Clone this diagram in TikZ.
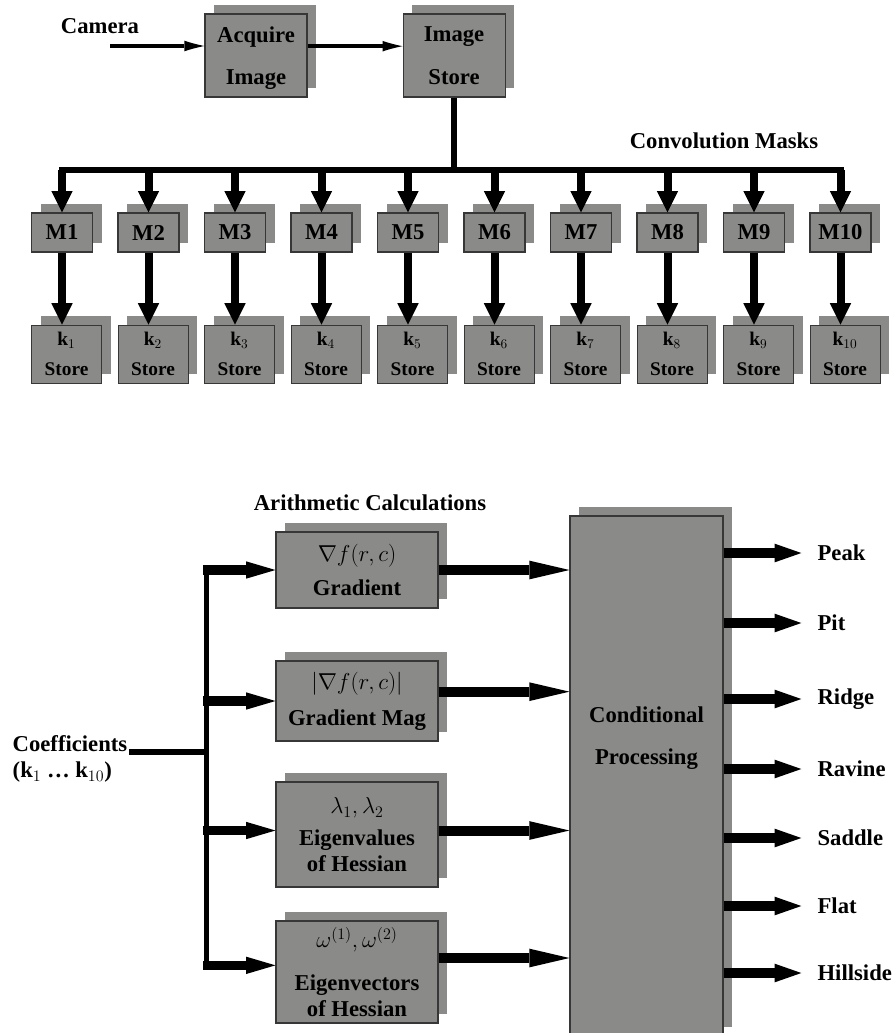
\documentclass[tikz,border=0pt]{standalone}
\usepackage{amsmath}
\usepackage{amssymb}
\usepackage{fontspec}
\setmainfont{Liberation Serif}
\usepackage{tikz}
\usetikzlibrary{arrows.meta, positioning, shadows}
\definecolor{boxgray}{RGB}{138,139,136}
\definecolor{edgegray}{RGB}{55,55,55}
\tikzstyle{block} = [rectangle, draw=edgegray, line width=0.8pt, fill=boxgray, align=center, inner sep=0pt, general shadow={fill=boxgray, shadow xshift=7pt, shadow yshift=6.5pt}]
\tikzstyle{mask} = [block, minimum width=45.75pt, minimum height=29.25pt]
\tikzstyle{kstore} = [block, minimum width=52.5pt, minimum height=43.5pt, font=\bfseries\fontsize{14.5}{17}\selectfont]
\tikzstyle{calcbox} = [block, minimum width=121.5pt]
\tikzstyle{lbl} = [inner sep=1pt]
\tikzstyle{thin line} = [draw, line width=3pt, -{Latex[length=15pt,width=8pt,line width=0pt]}]
\tikzstyle{bus line} = [draw, line width=4.5pt]
\tikzstyle{down line} = [draw, line width=6pt, -{Triangle[length=16pt,width=16pt,line width=0pt]}]
\tikzstyle{coef line} = [draw, line width=5pt]
\tikzstyle{trunk line} = [draw, line width=3.75pt]
\tikzstyle{branch line} = [draw, line width=7pt, shorten <=-1.9pt, -{Triangle[length=22pt,width=13pt,line width=0pt]}]
\tikzstyle{mid line} = [draw, line width=7.5pt, -{Triangle[length=30pt,width=14pt,line width=0pt]}]
\tikzstyle{out line} = [draw, line width=8pt, shorten >=11pt, -{Triangle[length=20pt,width=14pt,line width=0pt]}]

\begin{document}
\begin{tikzpicture}[x=0.75pt, y=0.75pt, every node/.style={font=\bfseries\fontsize{17}{20}\selectfont}]
        \useasboundingbox (0,0) rectangle (894,-1033);
        % Nodes
        \node [lbl] (cam) at (100,-26) {Camera};
        \coordinate (camin) at (110,-46);
        \node [block, minimum width=76.5pt, minimum height=62.25pt] (acq) at (256,-55.5) {Acquire\\[12pt]\smash[b]{Image}};
        \node [block, minimum width=76.5pt, minimum height=62.25pt, right=71.25pt of acq] (store) {\smash[b]{Image}\\[12pt]Store};
        \node [lbl] (conv) at (724,-141) {Convolution Masks};
        \coordinate (bus) at (0,-170);
        \foreach \i in {1,...,10} {
            \node [mask] (m\i) at ({62+86.5*(\i-1)},-232.5) {M\i};
            \node [kstore, below=54pt of m\i, xshift=3.4pt] (k\i) {k$_{\i}$\\[5.5pt]Store};
        }

        \node [lbl] (arith) at (370,-503) {Arithmetic Calculations};
        \node [calcbox, minimum height=57pt] (grad) at (357,-570) {$\nabla f(r,c)$\\[6pt]Gradient};
        \node [calcbox, minimum height=60pt] (gmag) at (357,-701) {$\left|\nabla f(r,c)\right|$\\[7pt]Gradient Mag};
        \node [calcbox, minimum height=78.75pt] (eval) at (357,-834.5) {$\lambda_1,\lambda_2$\\[4pt]Eigenvalues\\[-1pt]of Hessian};
        \node [calcbox, minimum height=76.5pt] (evec) at (357,-972) {$\omega^{(1)},\omega^{(2)}$\\[12pt]Eigenvectors\\of Hessian};
        \node [block, minimum width=114.75pt, minimum height=390pt, label={[yshift=28.5pt, align=center]center:Conditional\\[12pt]Processing}] (cp) at (646.5,-776) {};

        \node [lbl] (coef) at (70,-744) {Coefficients};
        \node [lbl, below=5pt of coef.south west, anchor=north west] (coefk) {(k$_1$ \ldots\ k$_{10}$)};
        \coordinate (trunk) at (206,-748);
        \foreach \y/\lab in {553/Peak, 623/Pit, 699/Ridge, 769/Ravine, 838/Saddle, 906/Flat, 973/Hillside}
            \node [lbl, anchor=west] (\lab) at (816,-\y) {\lab};

        \coordinate (gmagout) at ([yshift=7pt]gmag.east);
        \coordinate (evalin) at ([yshift=3pt]eval.west);
        \coordinate (evalout) at ([yshift=3pt]eval.east);
        \coordinate (evecin) at ([yshift=5pt]evec.west);
        \coordinate (evecout) at ([yshift=10.5pt]evec.east);

        % Lines
        \path [thin line] (camin) -- (camin -| acq.west);
        \path [thin line] ([yshift=7pt]acq.east) -- ([yshift=7pt]store.west);
        \path [bus line] (store.south) -- (store.south |- bus);
        \path [bus line, line cap=rect] (m1 |- bus) -- (m10 |- bus);
        \foreach \i in {1,...,10} {
            \path [down line] (m\i |- bus) -- (m\i.north);
            \path [down line] (m\i.south) -- (m\i.south |- k\i.north);
        }

        \path [coef line] (coef.base east) -- (coef.base east -| trunk);
        \path [trunk line] (trunk |- grad.west) -- (trunk |- evecin);
        \path [branch line] (trunk |- grad.west) -- (grad.west);
        \path [branch line] (trunk |- gmag.west) -- (gmag.west);
        \path [branch line] (trunk |- evalin) -- (evalin);
        \path [branch line] (trunk |- evecin) -- (evecin);

        \path [mid line] (grad.east) -- (grad.east -| cp.west);
        \path [mid line] (gmagout) -- (gmagout -| cp.west);
        \path [mid line] (evalout) -- (evalout -| cp.west);
        \path [mid line] (evecout) -- (evecout -| cp.west);

        \foreach \lab in {Peak, Pit, Ridge, Ravine, Saddle, Flat, Hillside}
            \path [out line] (cp.east |- \lab) -- (\lab.west);
    \end{tikzpicture}
\end{document}
